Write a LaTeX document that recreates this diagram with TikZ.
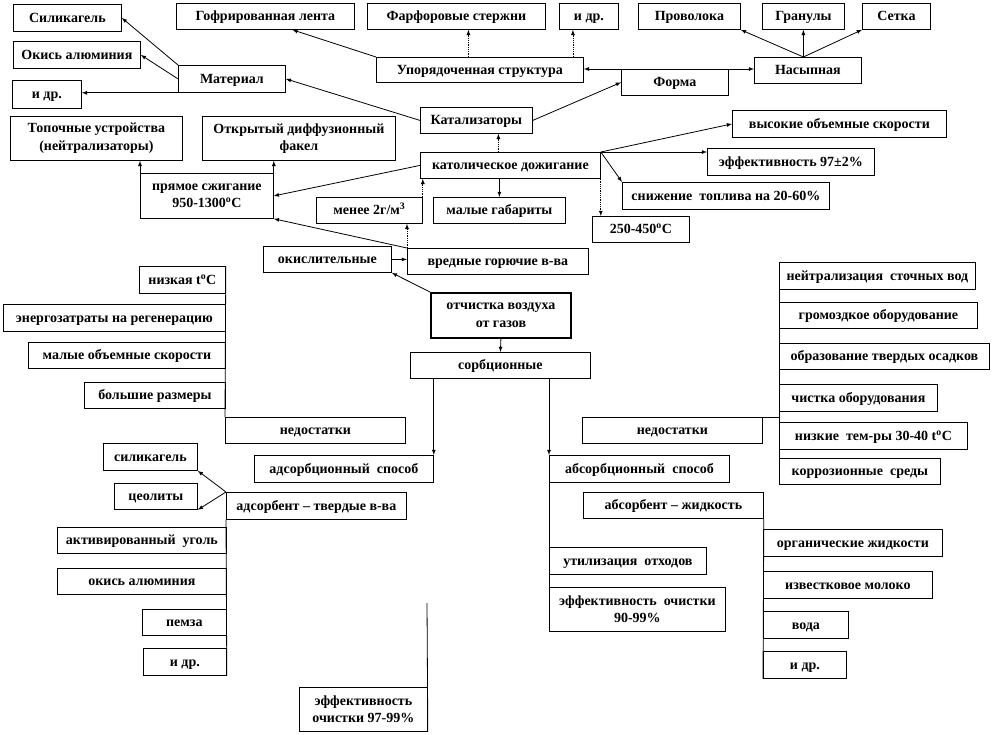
\documentclass[tikz,border=0pt]{standalone}
\usepackage{fontspec}
\setmainfont{Liberation Serif}
\begin{document}
\begin{tikzpicture}[x=1pt,y=-1pt,>=latex,
  box/.style={draw,fill=white,line width=.8pt,anchor=north west,inner sep=1pt,align=center,
    font=\fontsize{14}{17.5}\selectfont\bfseries},
  one/.style={text height=10pt,text depth=1pt},
  dotlink/.style={line width=.8pt,densely dotted}]
\useasboundingbox (0,0) rectangle (992,734);
% boxes: name/x1/y1/x2/y2/text
\foreach \nm/\xa/\ya/\xb/\yb/\txt in {
  gofr/176/3/354/29/{Гофрированная лента},
  farf/367/3/545/29/{Фарфоровые стержни},
  idrA/559/3/618/29/{и др.},
  provol/638/3/740/29/{Проволока},
  granul/762/3/844/29/{Гранулы},
  setka/862/3/930/29/{Сетка},
  silik/13/4/121/31/{Силикагель},
  okisA/13/41/140/68/{Окись алюминия},
  idrB/12/80/81/108/{и др.},
  mater/178/65/285/92/{Материал},
  uporyad/376/57/583/82/{Упорядоченная структура},
  forma/621/69/728/95/{Форма},
  nasyp/754/57/861/83/{Насыпная},
  katal/420/107/532/133/{Катализаторы},
  vysok/732/110/946/137/{высокие объемные скорости},
  dozhig/420/152/600/178/{католическое дожигание},
  effekt/707/148/874/175/{эффективность 97±2\%},
  snizh/622/182/829/209/{снижение \ топлива на 20-60\%},
  tkat/592/216/689/242/{250-450\textsuperscript{o}С},
  menee/316/197/422/223/{менее 2г/м\textsuperscript{3}},
  gabar/433/197/565/223/{малые габариты},
  okisl/263/246/391/272/{окислительные},
  vredn/407/248/588/274/{вредные горючие в-ва}}
  \node[box,one,minimum width=\xb-\xa,minimum height=\yb-\ya] (\nm) at (\xa,\ya) {\txt};
\node[box,minimum width=172,minimum height=44] (topoch) at (10,116) {Топочные устройства\\(нейтрализаторы)};
\node[box,minimum width=193,minimum height=44] (fakel) at (202,116) {Открытый диффузионный\\факел};
\node[box,minimum width=133,minimum height=45] (pryam) at (140,173) {прямое сжигание\\950-1300\textsuperscript{o}С};
\node[box,line width=1.8pt,minimum width=140,minimum height=45] (ochist) at (430,292) {отчистка воздуха\\от газов};
% lower part
\foreach \nm/\xa/\ya/\xb/\yb/\txt in {
  sorb/410/352/590/378/{сорбционные},
  nizk/139/266/225/293/{низкая t\textsuperscript{o}C},
  energ/3/304/225/331/{энергозатраты на регенерацию},
  malob/28/342/225/368/{малые объемные скорости},
  bolsh/84/382/225/408/{большие размеры},
  nedA/225/417/405/443/{недостатки},
  adsorb/254/455/433/482/{адсорбционный \ способ},
  silikB/103/443/197/470/{силикагель},
  ceol/114/483/197/509/{цеолиты},
  adsT/226/492/406/519/{адсорбент – твердые в-ва},
  ugol/57/527/226/553/{активированный \ уголь},
  okisB/57/568/226/594/{окись алюминия},
  pemza/142/609/226/635/{пемза},
  idrC/143/648/226/675/{и др.},
  neitr/779/262/975/289/{нейтрализация \ сточных вод},
  gromo/779/302/977/328/{громоздкое оборудование},
  obraz/779/343/989/369/{образование твердых осадков},
  chist/779/384/937/411/{чистка оборудования},
  nizkT/779/422/967/449/{низкие \ тем-ры 30-40 t\textsuperscript{o}C},
  korroz/779/458/940/484/{коррозионные \ среды},
  nedB/582/417/762/443/{недостатки},
  absorb/549/455/729/482/{абсорбционный \ способ},
  absZh/583/492/763/518/{абсорбент – жидкость},
  utiliz/549/547/706/574/{утилизация \ отходов},
  organ/763/529/942/556/{органические жидкости},
  izvest/763/571/932/598/{известковое молоко},
  voda/763/611/848/638/{вода},
  idrD/763/651/846/678/{и др.}}
  \node[box,one,minimum width=\xb-\xa,minimum height=\yb-\ya] (\nm) at (\xa,\ya) {\txt};
\node[box,minimum width=128,minimum height=44] (effA) at (299,687) {эффективность\\очистки 97-99\%};
\node[box,minimum width=176,minimum height=44] (effB) at (549,587) {эффективность \ очистки\\90-99\%};
\coordinate (farfIn) at ([xshift=12pt]farf.south);
\coordinate (idrIn) at ([xshift=-16pt]idrA.south);
\coordinate (gofrIn) at ([xshift=27pt]gofr.south);
\coordinate (katIn) at ([xshift=22pt]katal.south);
\coordinate (nasTop) at (granul.south |- nasyp.north);
\coordinate (effTop) at (427,603);
\begin{scope}[line width=.8pt]
\draw[->] (mater.north west) -- (silik.east);
\draw[->] (mater.west) -- (okisA.east);
\draw[->] (mater.south west) -- (idrB.east |- mater.south west);
\draw[->] (katal.west) -- (mater.east);
\draw[->] (uporyad.north west) -- (gofrIn);
\draw[->,dotlink] (uporyad.north -| farfIn) -- (farfIn);
\draw[->,dotlink] (uporyad.north -| idrIn) -- (idrIn);
\draw[<->] (uporyad.east |- forma.north) -- (nasyp.west |- forma.north);
\draw[->] (katal.east) -- (forma.west);
\draw[->] (nasTop) -- (provol.south east);
\draw[->] (nasTop) -- (granul.south);
\draw[->] (nasTop) -- (setka.south west);
\draw[->,dotlink] (dozhig.north -| katIn) -- (katIn);
\draw[->] (dozhig.north east) -- (vysok.west);
\draw[->] (dozhig.north east) -- (effekt.west |- dozhig.north east);
\draw[->] (dozhig.north east) -- (snizh.north west);
\draw[->,dotlink] (dozhig.south east) -- (dozhig.south east |- tkat.north);
\draw[->] (gabar.north |- dozhig.south) -- (gabar.north);
\draw[->] (dozhig.west) -- (pryam.east);
\draw[->] (pryam.north west) -- (pryam.north west |- topoch.south);
\draw[->] (pryam.north east) -- (pryam.north east |- fakel.south);
\draw[->] (vredn.north west) -- (pryam.south east);
\draw[->,dotlink] (vredn.north west) -- (vredn.north west |- menee.south);
\draw[->,dotlink] (menee.north east) -- (menee.north east |- dozhig.south);
\draw[->] (okisl.east) -- (okisl.east -| vredn.west);
\draw[->] (ochist.north west) -- (okisl.south east);
\draw[->] (ochist.south) -- (sorb.north);
\draw[->] (adsorb.north east |- sorb.south) -- (adsorb.north east);
\draw[->] (absorb.north west |- sorb.south) -- (absorb.north west);
\draw (nizk.north east) -- (nedA.north west);
\draw[->] (adsT.north west) -- (silikB.south east);
\draw[->] (adsT.north west) -- (ceol.south east);
\draw (adsT.south west) -- (idrC.south east);
\draw (effTop) -- (effA.south east);
\draw (neitr.north west) -- (korroz.south west);
\draw (nedB.north east) -- (nedB.north east -| neitr.west);
\draw (absorb.south west) -- (effB.south west);
\draw (absZh.south east) -- (idrD.south west);
\end{scope}
\end{tikzpicture}
\end{document}
